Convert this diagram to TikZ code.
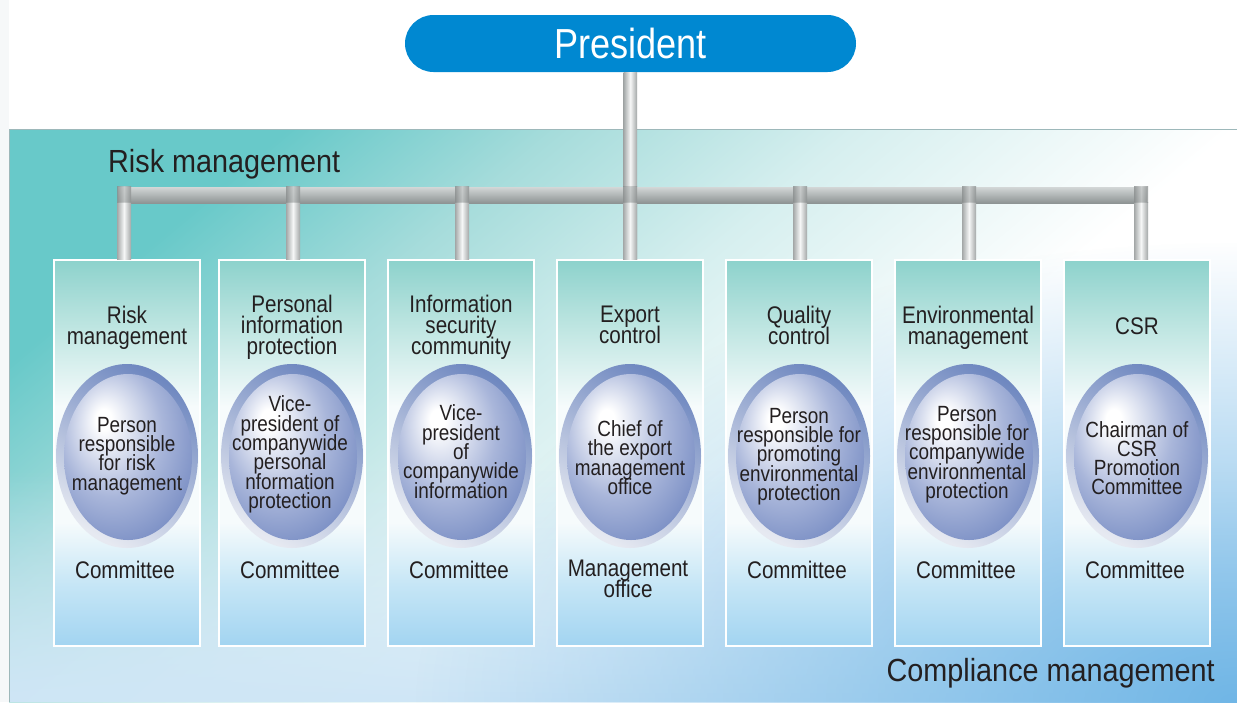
\documentclass[tikz,border=0pt]{standalone}
\usepackage{fontspec}
\newfontfamily\cnd[FakeStretch=0.86]{Liberation Sans}
\newfontfamily\hdf[FakeStretch=0.9]{Liberation Sans}
\usetikzlibrary{fadings,calc}
\definecolor{presblue}{HTML}{0088D1}
\definecolor{txt}{HTML}{231F20}
\definecolor{tealC}{HTML}{68C9C9}
\definecolor{tealL}{HTML}{A6DCDB}
\definecolor{tealLL}{HTML}{D6EFEF}
\definecolor{tintB}{HTML}{CFE6F6}
\definecolor{glowB}{HTML}{70B6E6}
\definecolor{stripC}{HTML}{F6F8F9}
\definecolor{edgeC}{HTML}{9DB8BA}
\definecolor{bxB}{HTML}{A2D4F1}
\definecolor{bxB2}{HTML}{C6E6F6}
\definecolor{bxW}{HTML}{F6FBFC}
\definecolor{bxT2}{HTML}{C0E6E2}
\definecolor{bxT}{HTML}{8DD2CC}
\definecolor{orbM}{HTML}{A9B6DA}
\definecolor{orbD}{HTML}{6A81BD}
\definecolor{ringD}{HTML}{6F88C0}
\definecolor{ringL}{HTML}{E6E9F1}
\definecolor{pipeD}{HTML}{A3A7A7}
\definecolor{pipeL}{HTML}{F6F7F7}
\definecolor{barT}{HTML}{D3D7D7}
\definecolor{barB}{HTML}{8E9494}
\definecolor{jointD}{HTML}{8A8E8E}
\definecolor{jointL}{HTML}{C6C9C9}
\pgfdeclareverticalshading{boxsh}{100bp}{color(0bp)=(bxB); color(25bp)=(bxB); color(33bp)=(bxB2); color(41bp)=(bxW); color(56bp)=(bxW); color(66bp)=(bxT2); color(75bp)=(bxT); color(100bp)=(bxT)}
\pgfdeclareverticalshading{panelsh}{100bp}{color(0bp)=(white); color(25bp)=(white); color(40bp)=(white); color(54bp)=(tealLL); color(65bp)=(tealL); color(75bp)=(tealC); color(100bp)=(tealC)}
\pgfdeclareradialshading{orb}{\pgfpoint{-10bp}{12bp}}{color(0bp)=(white); color(3bp)=(white); color(20bp)=(orbM); color(38bp)=(orbD); color(60bp)=(orbD)}
\tikzfading[name=fadeUp, top color=transparent!100, bottom color=transparent!0]
\tikzfading[name=glowfade, inner color=transparent!0, outer color=transparent!100]
\newcommand\tstrut{\rule[-5pt]{0pt}{23pt}}
\newcommand\estrut{\rule[-4pt]{0pt}{20pt}}
\newcommand\ttlfont{\cnd\fontsize{24}{21}\selectfont}
\newcommand\elfont{\cnd\fontsize{22}{19.3}\selectfont}
\AtBeginDocument{\lineskiplimit=-100pt\relax}
\tikzset{
  pres/.style={fill=presblue, rounded corners=28.5pt, minimum width=451pt, minimum height=57pt,
    inner sep=0pt, text=white, font=\cnd\fontsize{42}{46}\selectfont},
  unitbox/.style={draw=white, line width=1.5pt, shading=boxsh, minimum width=146pt, minimum height=386pt, inner sep=0pt},
  ttl/.style={align=center, inner sep=0pt, text=txt, font=\ttlfont,
    execute at begin node=\tstrut, execute at end node=\tstrut},
  etxt/.style={align=center, inner sep=0pt, text=txt, font=\elfont,
    execute at begin node=\estrut, execute at end node=\estrut},
  head/.style={inner sep=0pt, text=txt, font=\hdf\fontsize{32}{36}\selectfont},
  vpipe/.style={left color=pipeD, right color=pipeD, middle color=pipeL},
  hpipe/.style={top color=barT, middle color=pipeL, bottom color=barB},
  joint/.style={left color=jointD, right color=jointD, middle color=jointL},
  ring/.style={top color=ringD, bottom color=ringL, shading angle=-30},
  orbfill/.style={shading=orb}
}
\begin{document}
\begin{tikzpicture}[x=1pt, y=-1pt]
\useasboundingbox (0,0) rectangle (1237,702);
% background
\fill[white] (0,0) rectangle (1237,702);
\fill[stripC] (0,0) rectangle (9,702);
\shade[shading=panelsh, shading angle=40] (9,129) rectangle (1237,702);
\fill[tintB, path fading=fadeUp] (9,470) rectangle (1237,702);
\begin{scope}
  \clip (9,129) rectangle (1237,702);
  \fill[glowB, path fading=glowfade] (1237,702) ellipse [x radius=820, y radius=460];
\end{scope}
\draw[edgeC, line width=0.8pt] (9,702) -- (9,129.4) -- (1237,129.4);

% president
\node[pres] (pres) at (630.5,43.5) {President};

% boxes
\foreach \i/\x in {1/127, 2/292, 3/461, 4/630, 5/799, 6/968, 7/1137} {
  \node[unitbox] (b\i) at (\x,453) {};
}
\coordinate (barL) at (118,187);
\coordinate (barR) at (1147,203);

% pipes
\shade[vpipe] ($(pres.south)+(-7,0)$) rectangle ($(b4.north)+(7,0)$);
\shade[hpipe] (barL) rectangle (barR);
\foreach \i/\dx in {1/-3, 2/1, 3/1, 4/0, 5/1, 6/1, 7/4} {
  \shade[vpipe] ($(b\i.north)+(\dx-7,-57)$) rectangle ($(b\i.north)+(\dx+7,0)$);
  \shade[joint, opacity=0.8] ($(b\i.north)+(\dx-7,-73)$) rectangle ($(b\i.north)+(\dx+7,-57)$);
}

% ellipses
\foreach \i in {1,...,7} {
  \shade[ring] ($(b\i.center)+(0,3)$) ellipse [x radius=71, y radius=92];
  \shade[orbfill] ($(b\i.center)+(1,4)$) ellipse [x radius=64, y radius=83];
}

% titles
\node[ttl] (t1) at (127,327.5) {Risk\\management};
\node[ttl] (t2) at (292,327.5) {Personal\\information\\protection};
\node[ttl] (t3) at (461,327.5) {Information\\security\\community};
\node[ttl] (t4) at (630,327.5) {Export\\control};
\node[ttl] (t5) at (799,327.5) {Quality\\control};
\node[ttl] (t6) at (968,327.5) {Environmental\\management};
\node[ttl] (t7) at (1137,327.5) {CSR};

% ellipse texts
\node[etxt] (e1) at (127,456) {Person\\responsible\\for risk\\management};
\node[etxt] (e2) at (290,454.5) {Vice-\\president of\\companywide\\personal\\nformation\\protection};
\node[etxt] (e3) at (461,453.5) {Vice-\\president\\of\\companywide\\information};
\node[etxt] (e4) at (630,459.5) {Chief of\\the export\\management\\office};
\node[etxt] (e5) at (799,456.5) {Person\\responsible for\\promoting\\environmental\\protection};
\node[etxt] (e6) at (967,454.5) {Person\\responsible for\\companywide\\environmental\\protection};
\node[etxt] (e7) at (1137,460) {Chairman of\\CSR\\Promotion\\Committee};

% bottom labels
\node[ttl, anchor=north] (c1) at (125,560) {Committee};
\node[ttl, anchor=north] (c2) at (290,560) {Committee};
\node[ttl, anchor=north] (c3) at (459,560) {Committee};
\node[ttl, anchor=north] (c4) at (628,560) {Management\\office};
\node[ttl, anchor=north] (c5) at (797,560) {Committee};
\node[ttl, anchor=north] (c6) at (966,560) {Committee};
\node[ttl, anchor=north] (c7) at (1135,560) {Committee};

% headings
\node[head, anchor=base west] (rm) at (108,172) {Risk management};
\node[head, anchor=base east] (cm) at (1215,681) {Compliance management};
\end{tikzpicture}
\end{document}
